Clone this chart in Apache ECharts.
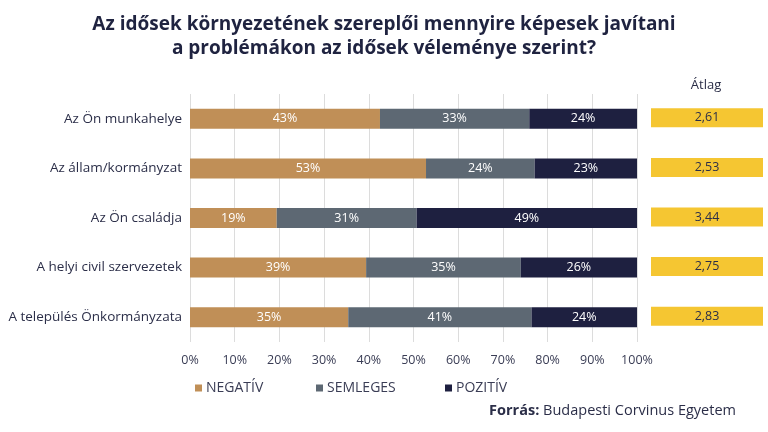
<!DOCTYPE html>
<html>
<head>
<meta charset="utf-8">
<script src="https://cdn.jsdelivr.net/npm/echarts@6/dist/echarts.min.js"></script>
<style>html,body{margin:0;padding:0;background:#fff}#c{width:768px;height:432px}</style>
</head>
<body>
<div id="c"></div>
<script>
const categories = ['Az Ön munkahelye', 'Az állam/kormányzat', 'Az Ön családja', 'A helyi civil szervezetek', 'A település Önkormányzata'];
const negativ = [42.5, 52.8, 19.4, 39.4, 35.4];
const semleges = [33.4, 24.3, 31.3, 34.6, 41.0];
const pozitiv = [24.1, 22.9, 49.3, 26.0, 23.6];
const negLabels = [43, 53, 19, 39, 35];
const semLabels = [33, 24, 31, 35, 41];
const pozLabels = [24, 23, 49, 26, 24];
const atlag = ['2,61', '2,53', '3,44', '2,75', '2,83'];
const xTicks = [0, 10, 20, 30, 40, 50, 60, 70, 80, 90, 100];
const legendNames = ['NEGATÍV', 'SEMLEGES', 'POZITÍV'];

const FONT = '"Open Sans", Roboto, sans-serif';
const TXT = '#2b2e48';
const chart = echarts.init(document.getElementById('c'));

function seg(name, data, labels, color) {
  return {
    name, type: 'bar', stack: 'total', data, barWidth: 20,
    itemStyle: { color },
    label: {
      show: true, position: 'inside', color: '#fff', fontSize: 12.5, fontFamily: FONT,
      formatter: p => labels[p.dataIndex] + '%'
    },
    emphasis: { disabled: true }
  };
}

const legendLefts = [190, 311, 440];

chart.setOption({
  animation: false,
  textStyle: { fontFamily: FONT },
  title: {
    text: 'Az idősek környezetének szereplői mennyire képesek javítani\na problémákon az idősek véleménye szerint?',
    left: 'center', top: 8,
    textStyle: { fontSize: 19, fontWeight: 'bold', color: '#1f2340', lineHeight: 24, fontFamily: FONT }
  },
  legend: legendNames.map((n, i) => ({
    left: legendLefts[i], top: 376, itemWidth: 7, itemHeight: 7, itemGap: 0,
    icon: 'rect', selectedMode: false,
    textStyle: { fontSize: 14, color: '#3a3d55', fontFamily: FONT, padding: [0, 0, 0, -1] },
    data: [n]
  })),
  grid: [
    { left: 190, right: 131, top: 94, bottom: 90 },
    { left: 651, right: 5, top: 94, bottom: 90 }
  ],
  xAxis: [
    {
      gridIndex: 0, type: 'value', min: 0, max: 100, interval: 10,
      axisLine: { show: false }, axisTick: { show: false },
      splitLine: { show: true, lineStyle: { color: '#dcdcdc', width: 1 } },
      axisLabel: { formatter: v => xTicks.includes(v) ? v + '%' : '', color: '#3a3d55', fontSize: 12.5, margin: 12 }
    },
    { gridIndex: 1, type: 'value', min: 0, max: 1, show: false }
  ],
  yAxis: [
    {
      gridIndex: 0, type: 'category', data: categories, inverse: true,
      axisLine: { show: false }, axisTick: { show: false },
      axisLabel: { color: TXT, fontSize: 13.5, margin: 8 }
    },
    {
      gridIndex: 1, type: 'category', data: categories, inverse: true, show: false
    }
  ],
  series: [
    seg('NEGATÍV', negativ, negLabels, '#c08f57'),
    seg('SEMLEGES', semleges, semLabels, '#5d6873'),
    seg('POZITÍV', pozitiv, pozLabels, '#1e2040'),
    {
      type: 'custom', xAxisIndex: 1, yAxisIndex: 1,
      data: atlag.map((v, i) => [i, v]),
      renderItem: (params, api) => {
        const cs = params.coordSys;
        const y = api.coord([0, api.value(0)])[1];
        const h = 19;
        return {
          type: 'group',
          children: [
            { type: 'rect', shape: { x: cs.x, y: y - h / 2 - 1, width: cs.width, height: h }, style: { fill: '#f5c632' } },
            { type: 'text', style: { text: atlag[params.dataIndex], x: cs.x + cs.width / 2, y: y - 1, align: 'center', verticalAlign: 'middle', fill: '#2b2e48', font: '12.5px ' + FONT } }
          ]
        };
      },
      silent: true
    }
  ],
  graphic: [
    { type: 'text', x: 706, y: 79, style: { text: 'Átlag', fill: TXT, font: '13px ' + FONT, align: 'center' } },
    {
      type: 'text', right: 32, top: 403,
      style: {
        text: '{b|Forrás:} Budapesti Corvinus Egyetem',
        rich: { b: { fontWeight: 'bold', fontSize: 14.5, fill: TXT, fontFamily: FONT } },
        fill: TXT, font: '14.5px ' + FONT
      }
    }
  ]
});
</script>
</body>
</html>
